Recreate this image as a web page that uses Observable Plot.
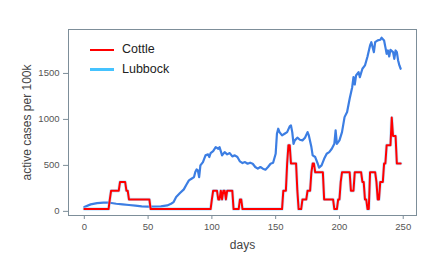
<!DOCTYPE html>
<html>
<head>
<meta charset="utf-8">
<script src="https://cdn.jsdelivr.net/npm/d3@7"></script>
<script src="https://cdn.jsdelivr.net/npm/@observablehq/plot@0.6"></script>
<style>
  html, body { margin: 0; padding: 0; background: #fff; }
  #wrap { position: relative; width: 436px; height: 263px; font-family: "Liberation Sans", Arial, sans-serif; }
  #legend { position: absolute; left: 90px; top: 40px; font-size: 12.5px; color: #222; line-height: 19.5px; }
  .item { display: flex; align-items: center; }
  .sw { width: 24px; height: 2.5px; margin-right: 8px; }
</style>
</head>
<body>
<div id="wrap">
  <div id="chart"></div>
  <div id="legend"></div>
</div>
<script>
const seriesNames = ["Cottle", "Lubbock"];
const seriesColors = ["#ff0000", "#45c3ff"];
const lubbockLineColor = "#3c7ee3";

const cottleDays = [0,19,20,21,27,28,32,33,34,35,51,52,
  99,100,101,104,105,106,107,108,109,110,111,112,116,117,121,122,123,124,
  155,156,158,159,160,161,162,166,167,168,170,171,174,175,177,178,179,180,181,187,188,
  195,196,198,199,200,201,202,208,209,211,212,217,218,219,220,221,222,223,224,228,229,
  230,231,232,234,235,236,237,238,240,241,242,244,245,248];
const cottleValues = [25,25,130,225,225,320,320,225,225,130,130,25,
  25,130,225,225,130,130,225,130,225,225,130,225,225,25,25,130,130,25,
  25,225,225,520,720,720,520,520,225,25,25,130,130,225,225,425,520,520,425,425,130,
  130,25,25,130,130,320,425,425,225,225,425,425,320,320,130,130,25,25,425,425,320,
  130,130,320,320,520,520,720,720,720,1020,820,820,520,520];

const lubbockDays = [0,5,10,15,20,25,30,35,40,45,50,55,60,65,68,70,72,75,78,80,82,84,86,87,88,89,90,91,93,95,97,98,99,
  101,103,105,106,108,110,112,114,116,118,120,122,124,126,128,130,132,134,136,138,140,142,144,146,148,150,151,152,153,
  155,157,159,161,162,163,164,165,167,169,171,173,175,176,178,179,181,183,184,186,188,190,192,194,196,197,198,200,
  202,204,206,208,210,211,212,213,215,216,218,220,222,224,225,227,228,230,232,233,235,236,237,238,239,240,242,243,
  244,245,246,247,248];
const lubbockValues = [47,76,90,94,94,83,76,69,62,54,51,51,54,65,83,101,156,199,239,290,337,355,373,428,456,446,373,500,536,609,620,591,634,
  656,699,681,699,609,645,620,634,598,609,591,543,525,536,518,529,518,482,464,482,464,453,482,518,529,627,844,899,862,
  826,844,862,924,935,862,735,772,801,779,772,801,862,826,699,609,591,518,475,500,572,627,645,681,735,880,735,772,
  862,1025,1080,1225,1351,1460,1380,1478,1514,1460,1551,1587,1685,1804,1840,1732,1840,1859,1866,1888,1859,1786,1714,1750,1685,1757,1732,1659,
  1750,1732,1641,1587,1551];

const xTicks = [0, 50, 100, 150, 200, 250];
const yTicks = [0, 500, 1000, 1500];

const cottle = cottleDays.map((d, i) => ({day: d, value: cottleValues[i]}));
const lubbock = lubbockDays.map((d, i) => ({day: d, value: lubbockValues[i]}));

const axisColor = "#7d8e99";
const labelColor = "#555";

const chart = Plot.plot({
  width: 436,
  height: 263,
  marginLeft: 68,
  marginRight: 20,
  marginTop: 29,
  marginBottom: 48,
  style: {fontFamily: "Liberation Sans, Arial, sans-serif", background: "#fff"},
  x: {domain: [-12.4, 260.4]},
  y: {domain: [-45, 1978]},
  marks: [
    Plot.line(lubbock, {x: "day", y: "value", stroke: lubbockLineColor, strokeWidth: 2.2, strokeLinejoin: "round"}),
    Plot.line(cottle, {x: "day", y: "value", stroke: "#9fd6ff", strokeWidth: 3.4, strokeOpacity: 0.6}),
    Plot.line(cottle, {x: "day", y: "value", stroke: seriesColors[0], strokeWidth: 2, strokeLinejoin: "round"}),
    Plot.frame({stroke: axisColor, strokeWidth: 1}),
    Plot.axisX({ticks: xTicks, tickSize: 4, tickPadding: 4, stroke: axisColor, fill: labelColor, fontSize: 9.5,
      tickFormat: d3.format("d"),
      label: "days", labelAnchor: "center", labelArrow: "none", labelOffset: 33}),
    Plot.axisY({ticks: yTicks, tickSize: 5, tickPadding: 4, stroke: axisColor, fill: labelColor, fontSize: 9.5,
      tickFormat: d3.format("d"),
      label: "active cases per 100k", labelAnchor: "center", labelArrow: "none", labelOffset: 46})
  ]
});
document.getElementById("chart").appendChild(chart);

chart.querySelectorAll("[aria-label='x-axis label'] text, [aria-label='y-axis label'] text").forEach(t => {
  t.setAttribute("font-size", "12");
  t.setAttribute("fill", "#444");
});

const legend = document.getElementById("legend");
seriesNames.forEach((name, i) => {
  const item = document.createElement("div");
  item.className = "item";
  const sw = document.createElement("div");
  sw.className = "sw";
  sw.style.background = seriesColors[i];
  const lab = document.createElement("span");
  lab.textContent = name;
  item.appendChild(sw);
  item.appendChild(lab);
  legend.appendChild(item);
});
</script>
</body>
</html>
